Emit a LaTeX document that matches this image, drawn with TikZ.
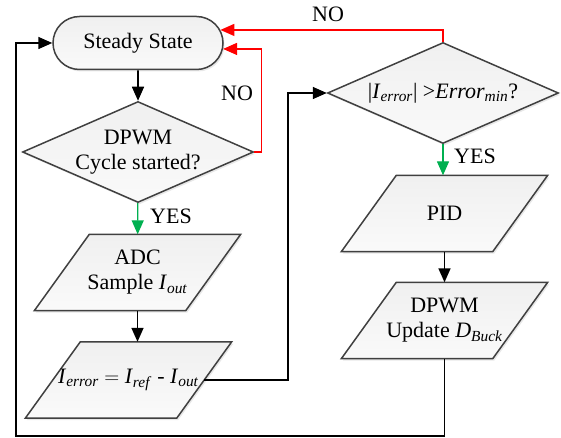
\documentclass[tikz,border=0pt]{standalone}
\usepackage{fontspec}
\setmainfont{Liberation Serif}
\usetikzlibrary{shapes.geometric,shapes.misc,arrows.meta,shadows,backgrounds}

\definecolor{yesgreen}{RGB}{0,176,80}
\definecolor{boxline}{RGB}{64,64,64}
\newcommand{\isub}[2]{\textit{#1}\textsubscript{\textit{#2}}}

\begin{document}
\begin{tikzpicture}[x=1pt,y=-1pt,
	box/.style={draw=boxline, line width=1.5pt, top color=gray!12, bottom color=gray!4,
		drop shadow={opacity=0.18, shadow xshift=1.5pt, shadow yshift=-2pt},
		font=\fontsize{22}{25}\selectfont, align=center, inner sep=0pt},
	state/.style={box, rounded rectangle, minimum width=170pt, minimum height=53pt},
	ask/.style={box, diamond, aspect=2.29, minimum width=231pt, minimum height=101pt},
	io/.style={font=\fontsize{22}{25}\selectfont, align=center, inner sep=0pt,
		minimum width=151pt, minimum height=76pt},
	iobox/.style={draw=boxline, line width=1.5pt, top color=gray!12, bottom color=gray!4,
		drop shadow={opacity=0.18, shadow xshift=1.5pt, shadow yshift=-2pt}},
	arr/.style={-{Triangle[length=14pt,width=12pt]}, line width=1.6pt},
	noarr/.style={arr, red, line width=1.4pt},
	yesarr/.style={arr, yesgreen, line width=1.4pt},
	lbl/.style={font=\fontsize{22}{25}\selectfont, inner sep=0pt}]

\useasboundingbox (0,0) rectangle (561,438);

\node[state] (steady) at (138,43) {Steady State};
\node[ask] (cycle) at (138,152) {DPWM\\Cycle started?};
\node[io] (adc) at (137.5,272.5) {ADC\\Sample \isub{I}{out}};
\node[io] (err) at (128.5,380) {\isub{I}{error} $=$ \isub{I}{ref} - \isub{I}{out}};

\node[ask] (check) at (443,93) {|\isub{I}{error}| >\isub{Error}{min}?};
\node[io] (pid) at (444.5,213.5) {PID};
\node[io] (upd) at (444.5,320.5) {DPWM\\Update \isub{D}{Buck}};

% slanted boxes behind the text
\begin{scope}[on background layer]
\foreach \n in {adc,err,pid,upd}
	\draw[iobox] ([xshift=27.5pt]\n.north west) -- ([xshift=27.5pt]\n.north east)
		-- ([xshift=-27.5pt]\n.south east) -- ([xshift=-27.5pt]\n.south west) -- cycle;
\end{scope}

% turning points of the long lines
\coordinate (bendup) at (288,93);
\coordinate (bendlow) at (16,436);

\draw[arr] (steady) -- (cycle);
\draw[yesarr] (cycle) -- (adc);
\draw[arr] (adc.south) -- (adc.south |- err.north);
\draw[arr] (err.east) -| (bendup) -- (check.west);
\draw[yesarr] (check.south) -- (check.south |- pid.north);
\draw[arr] (pid) -- (upd);
\draw[arr] (upd.south) |- (bendlow) |- (steady.west);

%NO
\draw[noarr] (cycle.east) -- ++(7,0) |- (steady.-4.8);
\draw[noarr] (check.north) |- (steady.9.8);

\node[lbl] (no1) at (237,93) {NO};
\node[lbl] (no2) at (328,14) {NO};
\node[lbl] (yes1) at (171,216) {YES};
\node[lbl] (yes2) at (475,156) {YES};

\end{tikzpicture}
\end{document}
